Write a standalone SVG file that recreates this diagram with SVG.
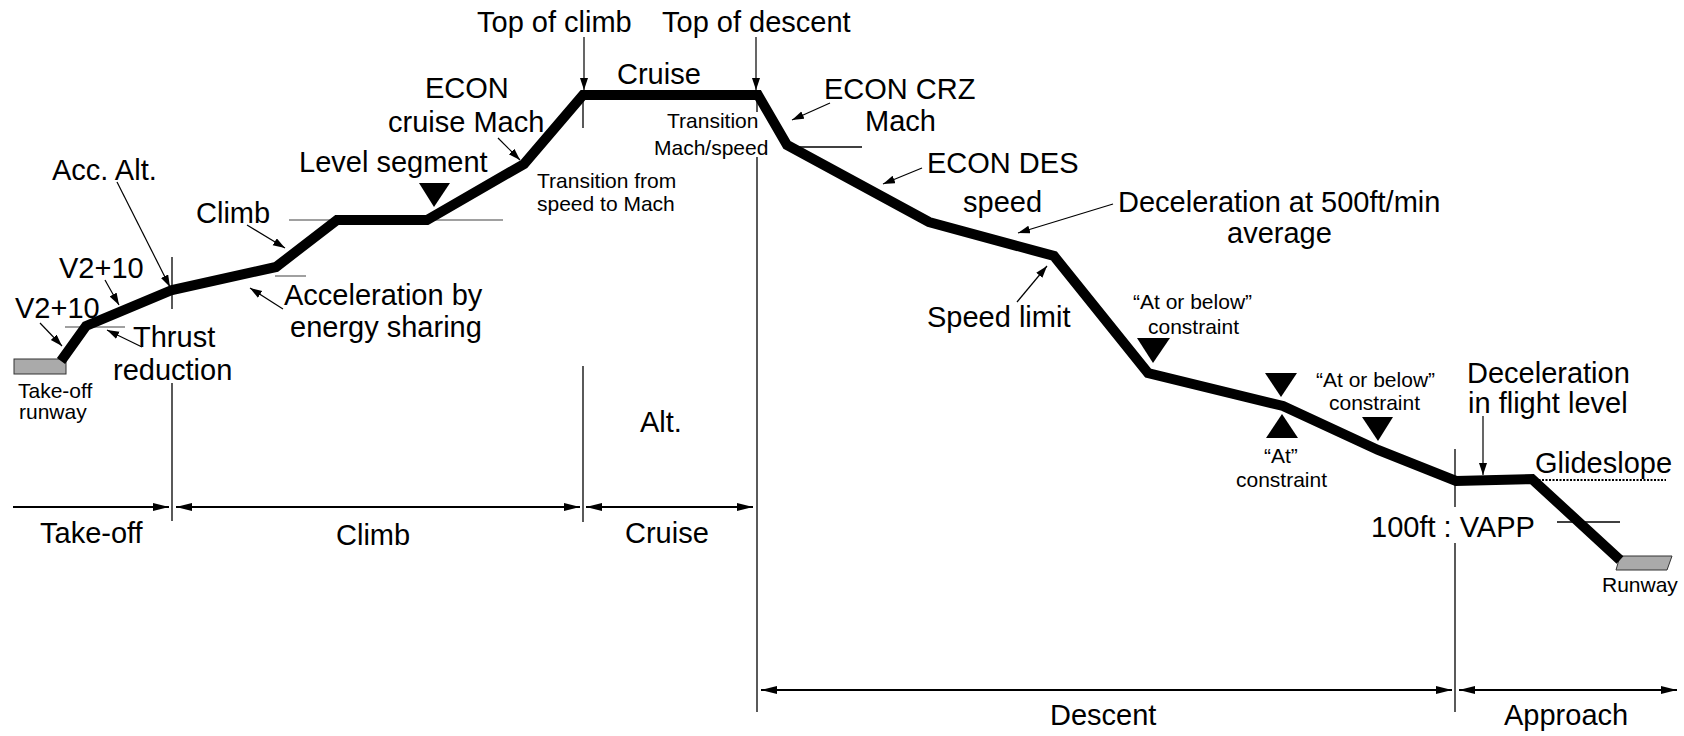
<svg xmlns="http://www.w3.org/2000/svg" width="1684" height="736" viewBox="0 0 1684 736">
<style>
text{font-family:"Liberation Sans",Arial,Helvetica,sans-serif;fill:#000}
.l{font-size:29px}
.s{font-size:21px}
.thin{stroke:#000;stroke-width:1.3;fill:none}
.grey{stroke:#808080;stroke-width:1.5;fill:none}
.ann{stroke:#000;stroke-width:1.2;fill:none;marker-end:url(#ah)}
.tl{stroke:#000;stroke-width:2;fill:none;marker-end:url(#tah)}
.tl2{stroke:#000;stroke-width:2;fill:none;marker-end:url(#tah);marker-start:url(#tah)}
.tri{fill:#000}
.rw{fill:#aaaaaa;stroke:#333;stroke-width:1}
</style>
<defs>
<marker id="ah" markerUnits="userSpaceOnUse" markerWidth="13" markerHeight="9" refX="12" refY="4" orient="auto"><path d="M0,0 L12,4 L0,8 z" fill="#000"/></marker>
<marker id="tah" markerUnits="userSpaceOnUse" markerWidth="17" markerHeight="9" refX="16" refY="4" orient="auto-start-reverse"><path d="M0,0 L16,4 L0,8 z" fill="#000"/></marker>
</defs>
<rect width="1684" height="736" fill="#fff"/>

<g id="reference-lines">
<line class="grey" x1="65" y1="327" x2="125" y2="327"/>
<line class="grey" x1="275" y1="276" x2="306" y2="276"/>
<line class="grey" x1="289" y1="220" x2="503" y2="220"/>
<line class="thin" x1="787" y1="147" x2="862" y2="147"/>
<line class="thin" x1="1557" y1="522" x2="1620" y2="522"/>
<line x1="1535" y1="480" x2="1666" y2="480" stroke="#000" stroke-width="2" stroke-dasharray="2 1.5"/>
<line class="thin" x1="172" y1="257" x2="172" y2="309"/>
<line class="thin" x1="172" y1="383" x2="172" y2="521"/>
<line class="thin" x1="583" y1="95" x2="583" y2="128"/>
<line class="thin" x1="583" y1="366" x2="583" y2="522"/>
<line class="thin" x1="757" y1="95" x2="757" y2="112"/>
<line class="thin" x1="757" y1="157" x2="757" y2="712"/>
<line class="thin" x1="1455" y1="449" x2="1455" y2="507"/>
<line class="thin" x1="1455" y1="543" x2="1455" y2="712"/>
</g>

<g id="runway-takeoff"><rect class="rw" x="14" y="359" width="52" height="15"/></g>
<g id="runway-landing"><polygon class="rw" points="1620,556 1672,556 1667,570 1616,570"/></g>

<g id="flight-path">
<polyline points="61,361 86,326 172,290 276,267 337,220 427,220 524,164 583,95 758,95 787,145 929,222 1054,256 1148,373 1283,406 1378,450 1456,481 1532,479 1620,560" fill="none" stroke="#000" stroke-width="10" stroke-linejoin="miter" stroke-miterlimit="10"/>
</g>

<g id="constraints">
<polygon class="tri" points="419,183 450,183 434,207"/>
<polygon class="tri" points="1137,338 1170,338 1153,363"/>
<polygon class="tri" points="1265,373 1297,373 1281,397"/>
<polygon class="tri" points="1266,438 1298,438 1282,414"/>
<polygon class="tri" points="1362,417 1393,417 1378,441"/>
</g>

<g id="connectors">
<line class="ann" x1="117" y1="182" x2="170" y2="287"/>
<line class="ann" x1="105" y1="280" x2="119" y2="305"/>
<line class="ann" x1="40" y1="323" x2="62" y2="346"/>
<line class="ann" x1="142" y1="347" x2="107" y2="330"/>
<line class="ann" x1="247" y1="225" x2="285" y2="248"/>
<line class="ann" x1="283" y1="309" x2="250" y2="288"/>
<line class="ann" x1="498" y1="138" x2="520" y2="160"/>
<line class="ann" x1="584" y1="37" x2="584" y2="90"/>
<line class="ann" x1="756" y1="37" x2="756" y2="90"/>
<line class="ann" x1="830" y1="103" x2="792" y2="120"/>
<line class="ann" x1="922" y1="168" x2="883" y2="184"/>
<line class="ann" x1="1113" y1="204" x2="1018" y2="233"/>
<line class="ann" x1="1017" y1="302" x2="1047" y2="266"/>
<line class="ann" x1="1483" y1="416" x2="1483" y2="475"/>
<line class="tl" x1="13" y1="507" x2="169" y2="507"/>
<line class="tl2" x1="176" y1="507" x2="580" y2="507"/>
<line class="tl2" x1="586" y1="507" x2="753" y2="507"/>
<line class="tl2" x1="761" y1="690" x2="1452" y2="690"/>
<line class="tl2" x1="1459" y1="690" x2="1677" y2="690"/>
</g>

<g id="labels-takeoff">
<text class="l" x="52" y="180">Acc. Alt.</text>
<text class="l" x="59" y="278">V2+10</text>
<text class="l" x="15" y="318">V2+10</text>
<text class="l" x="133" y="347">Thrust</text>
<text class="l" x="113" y="380">reduction</text>
<text class="s" x="18" y="398">Take-off</text>
<text class="s" x="19" y="419">runway</text>
</g>
<g id="labels-climb">
<text class="l" x="196" y="223">Climb</text>
<text class="l" x="284" y="305">Acceleration by</text>
<text class="l" x="290" y="337">energy sharing</text>
<text class="l" x="299" y="172">Level segment</text>
<text class="l" x="425" y="98">ECON</text>
<text class="l" x="388" y="132">cruise Mach</text>
<text class="s" x="537" y="188">Transition from</text>
<text class="s" x="537" y="211">speed to Mach</text>
</g>
<g id="labels-cruise">
<text class="l" x="477" y="32">Top of climb</text>
<text class="l" x="662" y="32">Top of descent</text>
<text class="l" x="617" y="84">Cruise</text>
<text class="s" x="667" y="128">Transition</text>
<text class="s" x="654" y="155">Mach/speed</text>
<text class="l" x="640" y="432">Alt.</text>
</g>
<g id="labels-descent">
<text class="l" x="824" y="99">ECON CRZ</text>
<text class="l" x="865" y="131">Mach</text>
<text class="l" x="927" y="173">ECON DES</text>
<text class="l" x="963" y="212">speed</text>
<text class="l" x="1118" y="212">Deceleration at 500ft/min</text>
<text class="l" x="1227" y="243">average</text>
<text class="l" x="927" y="327">Speed limit</text>
<text class="s" x="1133" y="309">“At or below”</text>
<text class="s" x="1148" y="334">constraint</text>
<text class="s" x="1316" y="387">“At or below”</text>
<text class="s" x="1329" y="410">constraint</text>
<text class="s" x="1264" y="463">“At”</text>
<text class="s" x="1236" y="487">constraint</text>
</g>
<g id="labels-approach">
<text class="l" x="1467" y="383">Deceleration</text>
<text class="l" x="1468" y="413">in flight level</text>
<text class="l" x="1535" y="473">Glideslope</text>
<text class="l" x="1371" y="537">100ft : VAPP</text>
<text class="s" x="1602" y="592">Runway</text>
</g>
<g id="phase-labels">
<text class="l" x="40" y="543">Take-off</text>
<text class="l" x="336" y="545">Climb</text>
<text class="l" x="625" y="543">Cruise</text>
<text class="l" x="1050" y="725">Descent</text>
<text class="l" x="1504" y="725">Approach</text>
</g>
</svg>
